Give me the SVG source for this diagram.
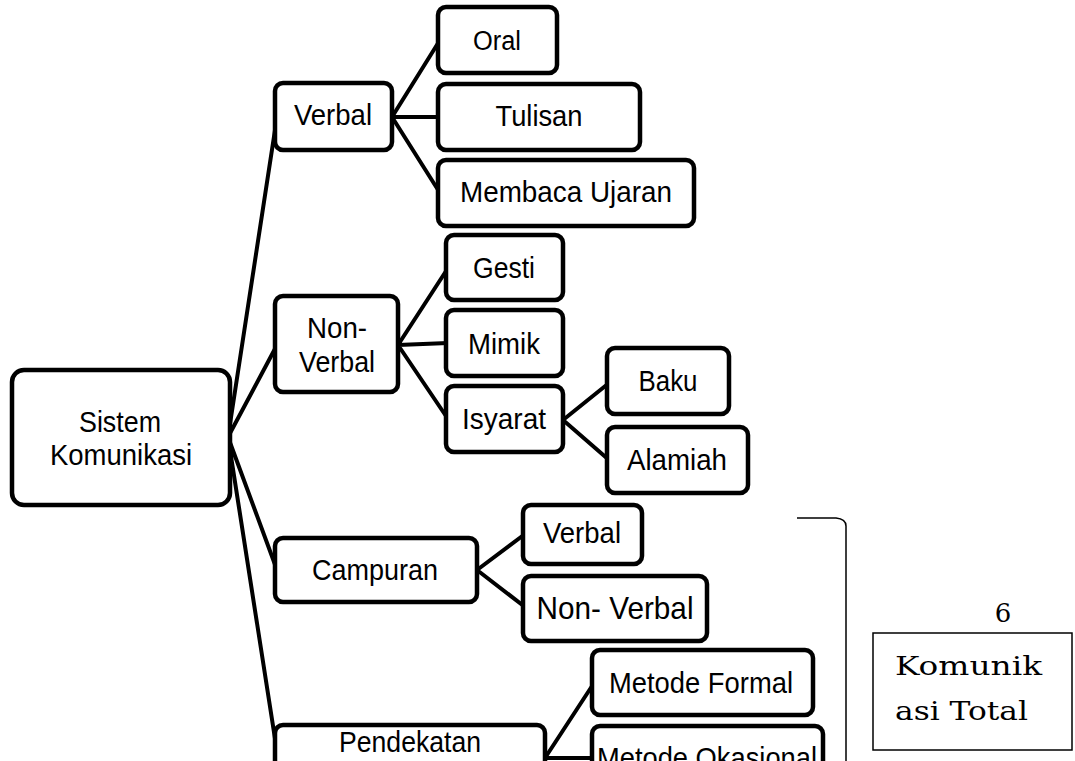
<svg xmlns="http://www.w3.org/2000/svg" width="1075" height="761" viewBox="0 0 1075 761">
<style>
.bx{fill:#fff;stroke:#000;stroke-width:4.5;}
.t{font-family:"Liberation Sans",Arial,sans-serif;font-size:30px;fill:#000;text-anchor:middle;}
.c{fill:none;stroke:#000;stroke-width:4;stroke-linecap:round;}
.s{font-family:"DejaVu Serif","Liberation Serif",serif;font-size:26px;fill:#000;}
</style>
<rect width="1075" height="761" fill="#fff"/>
<g id="connectors">
<path class="c" d="M228 437 L277 117 M228 437 L277 345 M228 437 L277 570 M228 437 L283 790"/>
<path class="c" d="M392 117 L440 40 M392 117 L440 117 M392 117 L440 193"/>
<path class="c" d="M398 345 L448 268 M398 345 L448 343 M398 345 L448 419"/>
<path class="c" d="M563 420 L609 383 M563 420 L609 460"/>
<path class="c" d="M477 570 L525 534 M477 570 L525 607"/>
<path class="c" d="M545 758 L594 683 M545 758 L594 758"/>
<path fill="none" stroke="#000" stroke-width="1.5" d="M797 518 L836 518 Q846 519 846 526 L846 761"/>
</g>
<g id="root"><rect class="bx" x="12" y="370" width="218" height="135" rx="12"/><text class="t" x="120" y="432" textLength="82" lengthAdjust="spacingAndGlyphs">Sistem</text><text class="t" x="121" y="465" textLength="142" lengthAdjust="spacingAndGlyphs">Komunikasi</text></g>
<g id="verbal"><rect class="bx" x="275" y="83" width="117" height="67" rx="8"/><text class="t" x="333" y="125" textLength="78" lengthAdjust="spacingAndGlyphs">Verbal</text></g>
<g id="oral"><rect class="bx" x="438" y="7" width="119" height="66" rx="8"/><text class="t" x="497" y="50" style="font-size:27px" textLength="48" lengthAdjust="spacingAndGlyphs">Oral</text></g>
<g id="tulisan"><rect class="bx" x="438" y="84" width="202" height="66" rx="8"/><text class="t" x="539" y="126" textLength="87" lengthAdjust="spacingAndGlyphs">Tulisan</text></g>
<g id="membaca"><rect class="bx" x="438" y="160" width="256" height="66" rx="8"/><text class="t" x="566" y="202" textLength="212" lengthAdjust="spacingAndGlyphs">Membaca Ujaran</text></g>
<g id="nonverbal"><rect class="bx" x="275" y="296" width="123" height="96" rx="8"/><text class="t" x="337" y="338" textLength="60" lengthAdjust="spacingAndGlyphs">Non-</text><text class="t" x="337" y="372" textLength="76" lengthAdjust="spacingAndGlyphs">Verbal</text></g>
<g id="gesti"><rect class="bx" x="446" y="235" width="117" height="65" rx="8"/><text class="t" x="504" y="278" textLength="62" lengthAdjust="spacingAndGlyphs">Gesti</text></g>
<g id="mimik"><rect class="bx" x="446" y="310" width="117" height="66" rx="8"/><text class="t" x="504" y="354" textLength="72" lengthAdjust="spacingAndGlyphs">Mimik</text></g>
<g id="isyarat"><rect class="bx" x="446" y="386" width="117" height="66" rx="8"/><text class="t" x="504" y="429" textLength="84" lengthAdjust="spacingAndGlyphs">Isyarat</text></g>
<g id="baku"><rect class="bx" x="607" y="348" width="122" height="66" rx="8"/><text class="t" x="668" y="391" textLength="59" lengthAdjust="spacingAndGlyphs">Baku</text></g>
<g id="alamiah"><rect class="bx" x="607" y="427" width="141" height="66" rx="8"/><text class="t" x="677" y="470" textLength="100" lengthAdjust="spacingAndGlyphs">Alamiah</text></g>
<g id="campuran"><rect class="bx" x="275" y="538" width="202" height="64" rx="8"/><text class="t" x="375" y="580" textLength="126" lengthAdjust="spacingAndGlyphs">Campuran</text></g>
<g id="c-verbal"><rect class="bx" x="523" y="505" width="119" height="59" rx="8"/><text class="t" x="582" y="543" textLength="78" lengthAdjust="spacingAndGlyphs">Verbal</text></g>
<g id="c-nonverbal"><rect class="bx" x="523" y="576" width="184" height="65" rx="8"/><text class="t" x="615" y="619" style="font-size:32px" textLength="157" lengthAdjust="spacingAndGlyphs">Non- Verbal</text></g>
<g id="pendekatan"><rect class="bx" x="275" y="725" width="270" height="66" rx="8"/><text class="t" x="410" y="752" textLength="142" lengthAdjust="spacingAndGlyphs">Pendekatan</text></g>
<g id="m-formal"><rect class="bx" x="592" y="650" width="221" height="65" rx="8"/><text class="t" x="701" y="693" textLength="184" lengthAdjust="spacingAndGlyphs">Metode Formal</text></g>
<g id="m-okasional"><rect class="bx" x="592" y="726" width="231" height="66" rx="8"/><text class="t" x="707" y="768" textLength="220" lengthAdjust="spacingAndGlyphs">Metode Okasional</text></g>
<g id="total">
<text class="s" x="1003" y="622" text-anchor="middle">6</text>
<rect x="873" y="633" width="199" height="117" fill="#fff" stroke="#000" stroke-width="1.5"/>
<text class="s" x="895" y="675" textLength="147" lengthAdjust="spacingAndGlyphs">Komunik</text>
<text class="s" x="895" y="720" textLength="133" lengthAdjust="spacingAndGlyphs">asi Total</text>
</g>
</svg>
